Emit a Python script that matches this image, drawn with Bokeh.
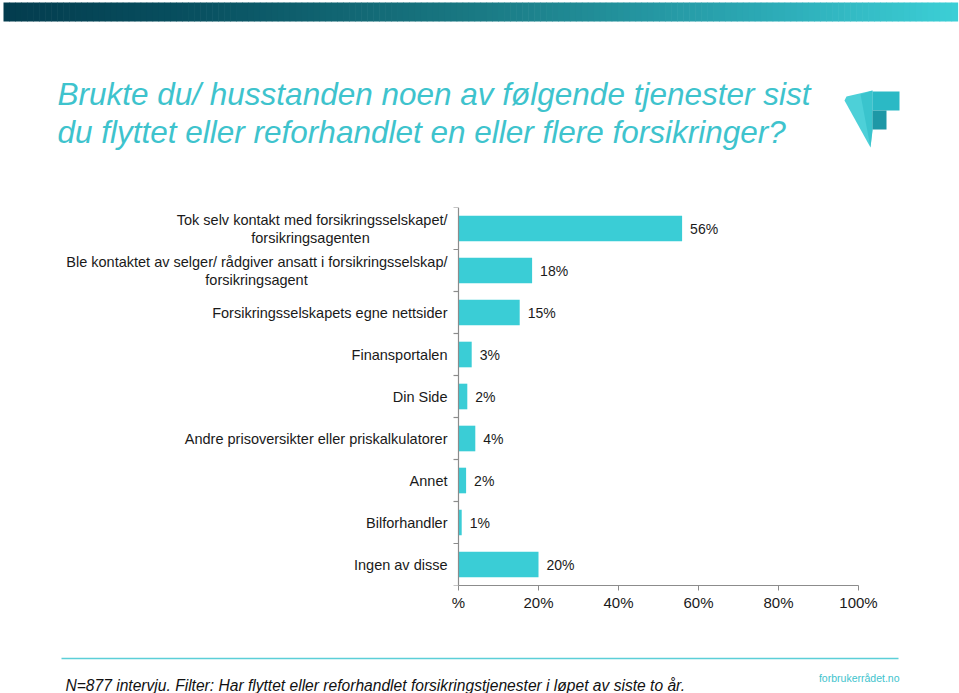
import numpy as np
from bokeh.plotting import figure
from bokeh.layouts import column
from bokeh.models import Range1d, FixedTicker, ColumnDataSource
from bokeh.core.properties import value
from bokeh.embed import file_html
from bokeh.resources import INLINE

# ---------------- data ----------------
categories = [
    "Tok selv kontakt med forsikringsselskapet/\nforsikringsagenten",
    "Ble kontaktet av selger/ rådgiver ansatt i forsikringsselskap/\nforsikringsagent",
    "Forsikringsselskapets egne nettsider",
    "Finansportalen",
    "Din Side",
    "Andre prisoversikter eller priskalkulatorer",
    "Annet",
    "Bilforhandler",
    "Ingen av disse",
]
shares = [55.9, 18.4, 15.3, 3.3, 2.2, 4.2, 1.9, 0.8, 20.0]
share_labels = ["56%", "18%", "15%", "3%", "2%", "4%", "2%", "1%", "20%"]
x_ticks = [0, 20, 40, 60, 80, 100]
x_tick_labels = ["%", "20%", "40%", "60%", "80%", "100%"]

title_lines = [
    "Brukte du/ husstanden noen av følgende tjenester sist",
    "du flyttet eller reforhandlet en eller flere forsikringer?",
]
footnote = "N=877 intervju. Filter: Har flyttet eller reforhandlet forsikringstjenester i løpet av siste to år."
source_text = "forbrukerrådet.no"

# ---------------- styles ----------------
W = 959
FONT = value("Liberation Sans")
BAR = "#3ACDD6"
TITLE_C = "#3EC3CD"
AXIS_C = "#8C8C8C"
LABEL_C = "#1a1a1a"

# ---------------- top figure (band, title, logo) ----------------
top_h = 207
top = figure(width=W, height=top_h, output_backend="svg", toolbar_location=None,
             x_range=Range1d(0, W), y_range=Range1d(top_h, 0),
             min_border=0, outline_line_color=None)
top.axis.visible = False
top.grid.visible = False

# gradient band
n = 160
edges = np.linspace(3, 957, n + 1)
stops_t = [0.0, 0.2, 0.5, 0.8, 1.0]
stops_c = np.array([[3, 60, 78], [8, 80, 96], [26, 122, 132], [44, 170, 182], [60, 207, 214]])
t = (np.arange(n) + 0.5) / n
cols = []
for tt in t:
    rgb = [int(round(np.interp(tt, stops_t, stops_c[:, k]))) for k in range(3)]
    cols.append("#%02x%02x%02x" % tuple(rgb))
top.quad(left=edges[:-1], right=edges[1:] + 0.6, top=2, bottom=21, fill_color=cols, line_color=None)

# title
top.text(x=[57, 57], y=[93, 131], text=title_lines, text_font=FONT, text_font_style="italic",
         text_font_size="31.5px", text_color=TITLE_C, text_baseline="alphabetic", text_align="left")

# logo
top.patch(x=[844, 846, 872, 872, 870], y=[100, 96, 90, 130, 147], fill_color="#4DD0D8", line_color=None)
top.patch(x=[860, 872, 872, 870], y=[94, 90, 130, 147], fill_color="#2FBCC7", line_color=None, fill_alpha=0.6)
top.quad(left=872, right=899, top=91, bottom=110, fill_color="#2BB9C5", line_color=None)
top.quad(left=872, right=886, top=110, bottom=129, fill_color="#1E98A6", line_color=None)

# ---------------- chart figure ----------------
px_per_pct = 4.0
x0_px = 458
frame_h = 378
chart_h = 433
n_cat = len(categories)
x_start = -x0_px / px_per_pct
x_end = (W - x0_px) / px_per_pct

p = figure(width=W, height=chart_h, output_backend="svg", toolbar_location=None,
           x_range=Range1d(x_start, x_end), y_range=Range1d(0, n_cat),
           min_border_left=0, min_border_right=0, min_border_top=0,
           min_border_bottom=chart_h - frame_h, outline_line_color=None)
p.yaxis.visible = False
p.grid.visible = False

ys = [n_cat - i - 0.5 for i in range(n_cat)]
src = ColumnDataSource(dict(y=ys, v=shares, lab=share_labels))
p.hbar(y="y", left=0, right="v", height=0.61, source=src, fill_color=BAR, line_color=None)
p.text(x="v", y="y", text="lab", source=src, x_offset=8, text_align="left", text_baseline="middle",
       text_font=FONT, text_font_size="14px", text_color=LABEL_C)

# category labels
single = [c for c in categories if "\n" not in c]
ys_single = [ys[i] for i, c in enumerate(categories) if "\n" not in c]
p.text(x=0, y=ys_single, text=single, x_offset=-11, text_align="right", text_baseline="middle",
       text_font=FONT, text_font_size="14.5px", text_color=LABEL_C)

multi = [c.split("\n") for c in categories if "\n" in c]
ys_multi = [ys[i] for i, c in enumerate(categories) if "\n" in c]
line2_centre = [-148, -202]   # screen offset of the centred second line
p.text(x=[0] * len(multi), y=ys_multi, text=[m[0] for m in multi], x_offset=-11, y_offset=-9,
       text_align="right", text_baseline="middle", text_font=FONT, text_font_size="14.5px",
       text_color=LABEL_C)
p.text(x=[0] * len(multi), y=ys_multi, text=[m[1] for m in multi], x_offset=line2_centre, y_offset=9,
       text_align="center", text_baseline="middle", text_font=FONT, text_font_size="14.5px",
       text_color=LABEL_C)

# vertical axis line with ticks at category boundaries
bounds = list(range(n_cat + 1))
p.segment(x0=0, y0=0, x1=0, y1=n_cat, line_color=AXIS_C, line_width=1.2)
p.segment(x0=[-5 / px_per_pct] * len(bounds), y0=bounds, x1=[0] * len(bounds), y1=bounds,
          line_color=AXIS_C, line_width=1.2)

# x axis
xa = p.xaxis[0]
xa.bounds = (x_ticks[0], x_ticks[-1])
xa.ticker = FixedTicker(ticks=x_ticks)
xa.major_label_overrides = {t_: l_ for t_, l_ in zip(x_ticks, x_tick_labels)}
xa.minor_tick_line_color = None
xa.axis_line_color = AXIS_C
xa.axis_line_width = 1.2
xa.major_tick_line_color = AXIS_C
xa.major_tick_out = 5
xa.major_tick_in = 0
xa.major_label_standoff = 3
xa.major_label_text_font = "Liberation Sans"
xa.major_label_text_font_size = "15px"
xa.major_label_text_color = LABEL_C

# ---------------- footer figure ----------------
foot_top = top_h + chart_h
foot_h = 693 - foot_top
foot = figure(width=W, height=foot_h, output_backend="svg", toolbar_location=None,
              x_range=Range1d(0, W), y_range=Range1d(693, foot_top),
              min_border=0, outline_line_color=None)
foot.axis.visible = False
foot.grid.visible = False
foot.segment(x0=61, y0=658, x1=898, y1=658, line_color="#5CCFD8", line_width=1.5)
foot.text(x=[65], y=[685], text=[footnote], text_font=FONT, text_font_style="italic",
          text_font_size="15.6px", text_color="#111111", text_baseline="alphabetic")
foot.text(x=[899], y=[677], text=[source_text], text_font=FONT,
          text_font_size="10.5px", text_color="#3EC3CD", text_baseline="alphabetic", text_align="right")

layout = column(top, p, foot, spacing=0,
                styles={"position": "absolute", "top": "0px", "left": "0px"})

open("out.html", "w").write(file_html(layout, INLINE))
